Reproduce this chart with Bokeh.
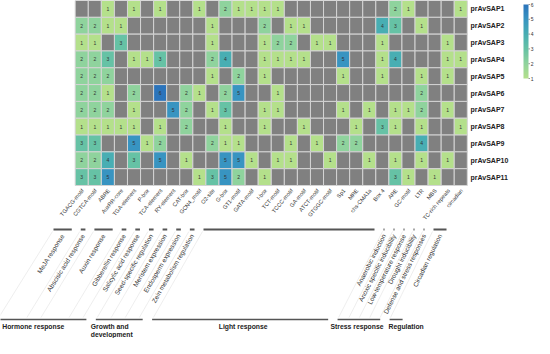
import numpy as np
from bokeh.plotting import figure
from bokeh.models import ColumnDataSource, LinearColorMapper, Range1d
from bokeh.core.properties import value
from bokeh.embed import file_html
from bokeh.resources import INLINE

# ---------------- data ----------------
genes = ["prAvSAP1", "prAvSAP2", "prAvSAP3", "prAvSAP4", "prAvSAP5", "prAvSAP6",
         "prAvSAP7", "prAvSAP8", "prAvSAP9", "prAvSAP10", "prAvSAP11"]

elements = ["TGACG-motif", "CGTCA-motif", "ABRE", "AuxRR-core", "TGA-element", "P-box",
            "TCA-element", "RY-element", "CAT-box", "GCN4_motif", "O2-site", "G-box",
            "GT1-motif", "GATA-motif", "I-box", "TCT-motif", "TCCC-motif", "GA-motif",
            "ATCT-motif", "GTGGC-motif", "Sp1", "MRE", "chs-CMA1a", "Box 4", "ARE",
            "GC-motif", "LTR", "MBS", "TC-rich repeats", "circadian"]

sap1 = [0, 0, 1, 0, 1, 0, 1, 0, 0, 1, 0, 2, 1, 1, 1, 1, 0, 0, 0, 0, 0, 0, 0, 0, 2, 1, 0, 0, 0, 1]
sap2 = [2, 2, 1, 1, 0, 0, 0, 0, 0, 0, 1, 0, 0, 0, 2, 0, 1, 1, 0, 0, 0, 0, 0, 4, 3, 0, 1, 0, 0, 0]
sap3 = [1, 1, 0, 3, 0, 0, 0, 0, 0, 0, 1, 0, 0, 0, 1, 2, 2, 0, 1, 1, 0, 0, 0, 1, 0, 0, 0, 0, 1, 0]
sap4 = [2, 2, 3, 0, 1, 1, 3, 0, 0, 0, 2, 4, 0, 0, 1, 1, 1, 1, 0, 0, 5, 0, 0, 1, 4, 0, 0, 0, 1, 1]
sap5 = [2, 2, 2, 0, 0, 0, 0, 0, 0, 0, 1, 0, 2, 0, 1, 0, 0, 0, 0, 0, 1, 0, 0, 1, 0, 0, 1, 0, 1, 0]
sap6 = [2, 2, 1, 0, 2, 0, 6, 0, 2, 1, 0, 2, 5, 0, 0, 1, 0, 0, 0, 0, 0, 0, 0, 0, 0, 0, 2, 0, 0, 0]
sap7 = [2, 2, 2, 0, 1, 0, 0, 5, 2, 0, 1, 3, 0, 0, 1, 1, 0, 0, 0, 0, 1, 0, 1, 0, 1, 1, 2, 0, 1, 0]
sap8 = [1, 1, 1, 1, 1, 0, 1, 0, 2, 0, 0, 1, 0, 0, 1, 0, 0, 1, 0, 0, 0, 1, 0, 3, 1, 0, 1, 0, 0, 1]
sap9 = [3, 3, 0, 0, 5, 1, 2, 0, 0, 0, 2, 1, 1, 0, 0, 0, 1, 0, 1, 0, 2, 2, 0, 0, 0, 0, 4, 0, 0, 0]
sap10 = [2, 2, 4, 0, 3, 0, 5, 0, 1, 0, 0, 5, 5, 1, 0, 1, 1, 0, 0, 1, 0, 0, 1, 0, 1, 0, 1, 0, 1, 0]
sap11 = [3, 3, 5, 0, 0, 0, 0, 0, 0, 1, 3, 5, 2, 0, 1, 0, 0, 0, 0, 0, 0, 0, 0, 0, 3, 1, 0, 1, 0, 0]
rows = [sap1, sap2, sap3, sap4, sap5, sap6, sap7, sap8, sap9, sap10, sap11]

functions = ["MeJA response", "Abscisic acid response", "Auxin response", "Gibberellin response",
             "Salicylic acid response", "Seed-specific regulation", "Meristem expression",
             "Endosperm expression", "Zein metabolism regulation", "",
             "Anaerobic induction", "Anoxic specific inducibility", "Low-temperature response",
             "Drought inducibility", "Defense and stress responses", "Circadian regulation"]
function_first = [0, 2, 3, 5, 6, 7, 8, 9, 10, 11, 24, 25, 26, 27, 28, 29]
function_last = [1, 2, 4, 5, 6, 7, 8, 9, 10, 23, 24, 25, 26, 27, 28, 29]

categories = ["Hormone response", "Growth and\ndevelopment", "Light response", "Stress response", "Regulation"]
category_first = [0, 7, 11, 24, 29]
category_last = [6, 10, 23, 28, 29]

scale_ticks = [1, 2, 3, 4, 5, 6]

# ---------------- layout ----------------
W, H = 534, 338
M = 8
GRID_LEFT = 82.7
COL_W = 13.07
GRID_TOP = 8.0
GRID_BOTTOM = 193.0
ROW_H = (GRID_BOTTOM - GRID_TOP) / len(genes)


def dx(px):
    return (px - GRID_LEFT) / COL_W - 0.5


def dy(py):
    return -((py - GRID_TOP) / ROW_H - 0.5)


FONT = value("Liberation Sans")
p = figure(width=W, height=H, x_range=Range1d(dx(M), dx(M + W)), y_range=Range1d(dy(M + H), dy(M)),
           output_backend="svg", toolbar_location=None, min_border=0)
p.axis.visible = False
p.grid.visible = False
p.outline_line_color = None

anchors = ["#b4e08b", "#8fd39d", "#66c2a5", "#48aeb3", "#3894c1", "#2b74bb"]


def interp_palette(cols, n=256):
    rgb = np.array([[int(c[i:i + 2], 16) for i in (1, 3, 5)] for c in cols], float)
    t = np.linspace(0, 1, len(cols))
    out = []
    for s in np.linspace(0, 1, n):
        r = [np.interp(s, t, rgb[:, k]) for k in range(3)]
        out.append("#%02x%02x%02x" % tuple(int(round(v)) for v in r))
    return out


vmin, vmax = scale_ticks[0], scale_ticks[-1]
mapper = LinearColorMapper(palette=interp_palette(anchors), low=vmin, high=vmax, low_color="#808080")

xs, ys, vs = [], [], []
for r, row in enumerate(rows):
    for c, v in enumerate(row):
        xs.append(c)
        ys.append(-r)
        vs.append(v)
cells = ColumnDataSource(dict(x=xs, y=ys, v=vs, t=[str(v) if v else "" for v in vs]))
p.rect(x="x", y="y", width=1, height=1, source=cells,
       fill_color={"field": "v", "transform": mapper}, line_color="#d4d4d4", line_width=1)
p.text(x="x", y="y", text="t", source=cells, text_font=FONT, text_font_size="5px",
       text_align="center", text_baseline="middle", text_color="#333333")

# row labels
p.text(x=[dx(478)] * len(genes), y=[-i for i in range(len(genes))], text=genes,
       text_font=FONT, text_font_size="7px", text_font_style="bold",
       text_align="left", text_baseline="middle", text_color="#222222")

# column labels
p.text(x=[c + 1.0 / COL_W for c in range(len(elements))], y=[dy(197)] * len(elements), text=elements,
       angle=50, angle_units="deg", text_font=FONT, text_font_size="5.6px",
       text_align="right", text_baseline="middle", text_color="#333333")

# bracket geometry
SEG_Y = 237
CAT_Y = 327


def seg_px(c):
    return np.interp(c, [0, 11, 24, 29, 30], [60, 210, 390, 440, 462])


def slant(c):
    return 58 + 6 * c / 29.0


def shift(c):
    return (CAT_Y - SEG_Y) / np.tan(np.radians(slant(c)))


f_s = [seg_px(a) + 1 for a in function_first]
f_e = [seg_px(b + 1) - 8 for b in function_last]
f_ang = [slant(a) for a in function_first]
p.segment(x0=[dx(v) for v in f_s], y0=[dy(SEG_Y)] * len(f_s), x1=[dx(v) for v in f_e], y1=[dy(SEG_Y)] * len(f_s),
          line_color="#555555", line_width=1.8)
# faint slanted guides
p.segment(x0=[dx(v - 1) for v in f_s], y0=[dy(SEG_Y + 2)] * len(f_s),
          x1=[dx(v - 1 - shift(a) * (CAT_Y - SEG_Y - 4) / (CAT_Y - SEG_Y)) for v, a in zip(f_s, function_first)],
          y1=[dy(CAT_Y - 2)] * len(f_s),
          line_color="#e2e2e2", line_width=0.6)
# function labels
p.text(x=[dx((a + b) / 2) for a, b in zip(f_s, f_e)], y=[dy(SEG_Y + 5)] * len(f_s), text=functions,
       angle=f_ang, angle_units="deg", text_font=FONT, text_font_size="6.5px",
       text_align="right", text_baseline="middle", text_color="#333333")

# category lines and labels
c_s = [seg_px(a) + 1 - shift(a) for a in category_first]
c_e = [seg_px(b + 1) - 8 - shift(b) for b in category_last]
p.segment(x0=[dx(v) for v in c_s], y0=[dy(CAT_Y)] * len(c_s), x1=[dx(v) for v in c_e], y1=[dy(CAT_Y)] * len(c_s),
          line_color="#555555", line_width=1.5)
cat_text_dx = [5, -5, 0, -7, -1]
left_idx = [i for i, t in enumerate(categories) if t != "Light response"]
mid_idx = [i for i, t in enumerate(categories) if t == "Light response"]
p.text(x=[dx(c_s[i] + cat_text_dx[i]) for i in left_idx], y=[dy(CAT_Y + 3)] * len(left_idx),
       text=[categories[i] for i in left_idx],
       text_font=FONT, text_font_size="6.8px", text_font_style="bold", text_line_height=1.15,
       text_align="left", text_baseline="top", text_color="#222222")
p.text(x=[dx((c_s[i] + c_e[i]) / 2 + 3) for i in mid_idx], y=[dy(CAT_Y + 3)] * len(mid_idx),
       text=[categories[i] for i in mid_idx],
       text_font=FONT, text_font_size="6.8px", text_font_style="bold",
       text_align="center", text_baseline="top", text_color="#222222")

# colour scale (drawn through the same colour mapper)
CB_X, CB_W, CB_TOP, CB_BOT = 531, 5, 12, 86
grad = np.linspace(vmin, vmax, 200).reshape(200, 1)
p.image(image=[grad], x=dx(CB_X), y=dy(CB_BOT), dw=CB_W / COL_W, dh=(CB_BOT - CB_TOP) / ROW_H,
        color_mapper=mapper)
tick_py = [CB_BOT - (t - vmin) / (vmax - vmin) * (CB_BOT - CB_TOP) for t in scale_ticks]
p.segment(x0=[dx(CB_X + CB_W)] * len(scale_ticks), y0=[dy(v) for v in tick_py],
          x1=[dx(CB_X + CB_W + 1.5)] * len(scale_ticks), y1=[dy(v) for v in tick_py],
          line_color="#555555", line_width=0.6)
p.text(x=[dx(CB_X + CB_W + 2.2)] * len(scale_ticks), y=[dy(v) for v in tick_py], text=[str(t) for t in scale_ticks],
       text_font=FONT, text_font_size="5px", text_align="left", text_baseline="middle", text_color="#333333")

open("out.html", "w").write(file_html(p, INLINE))
